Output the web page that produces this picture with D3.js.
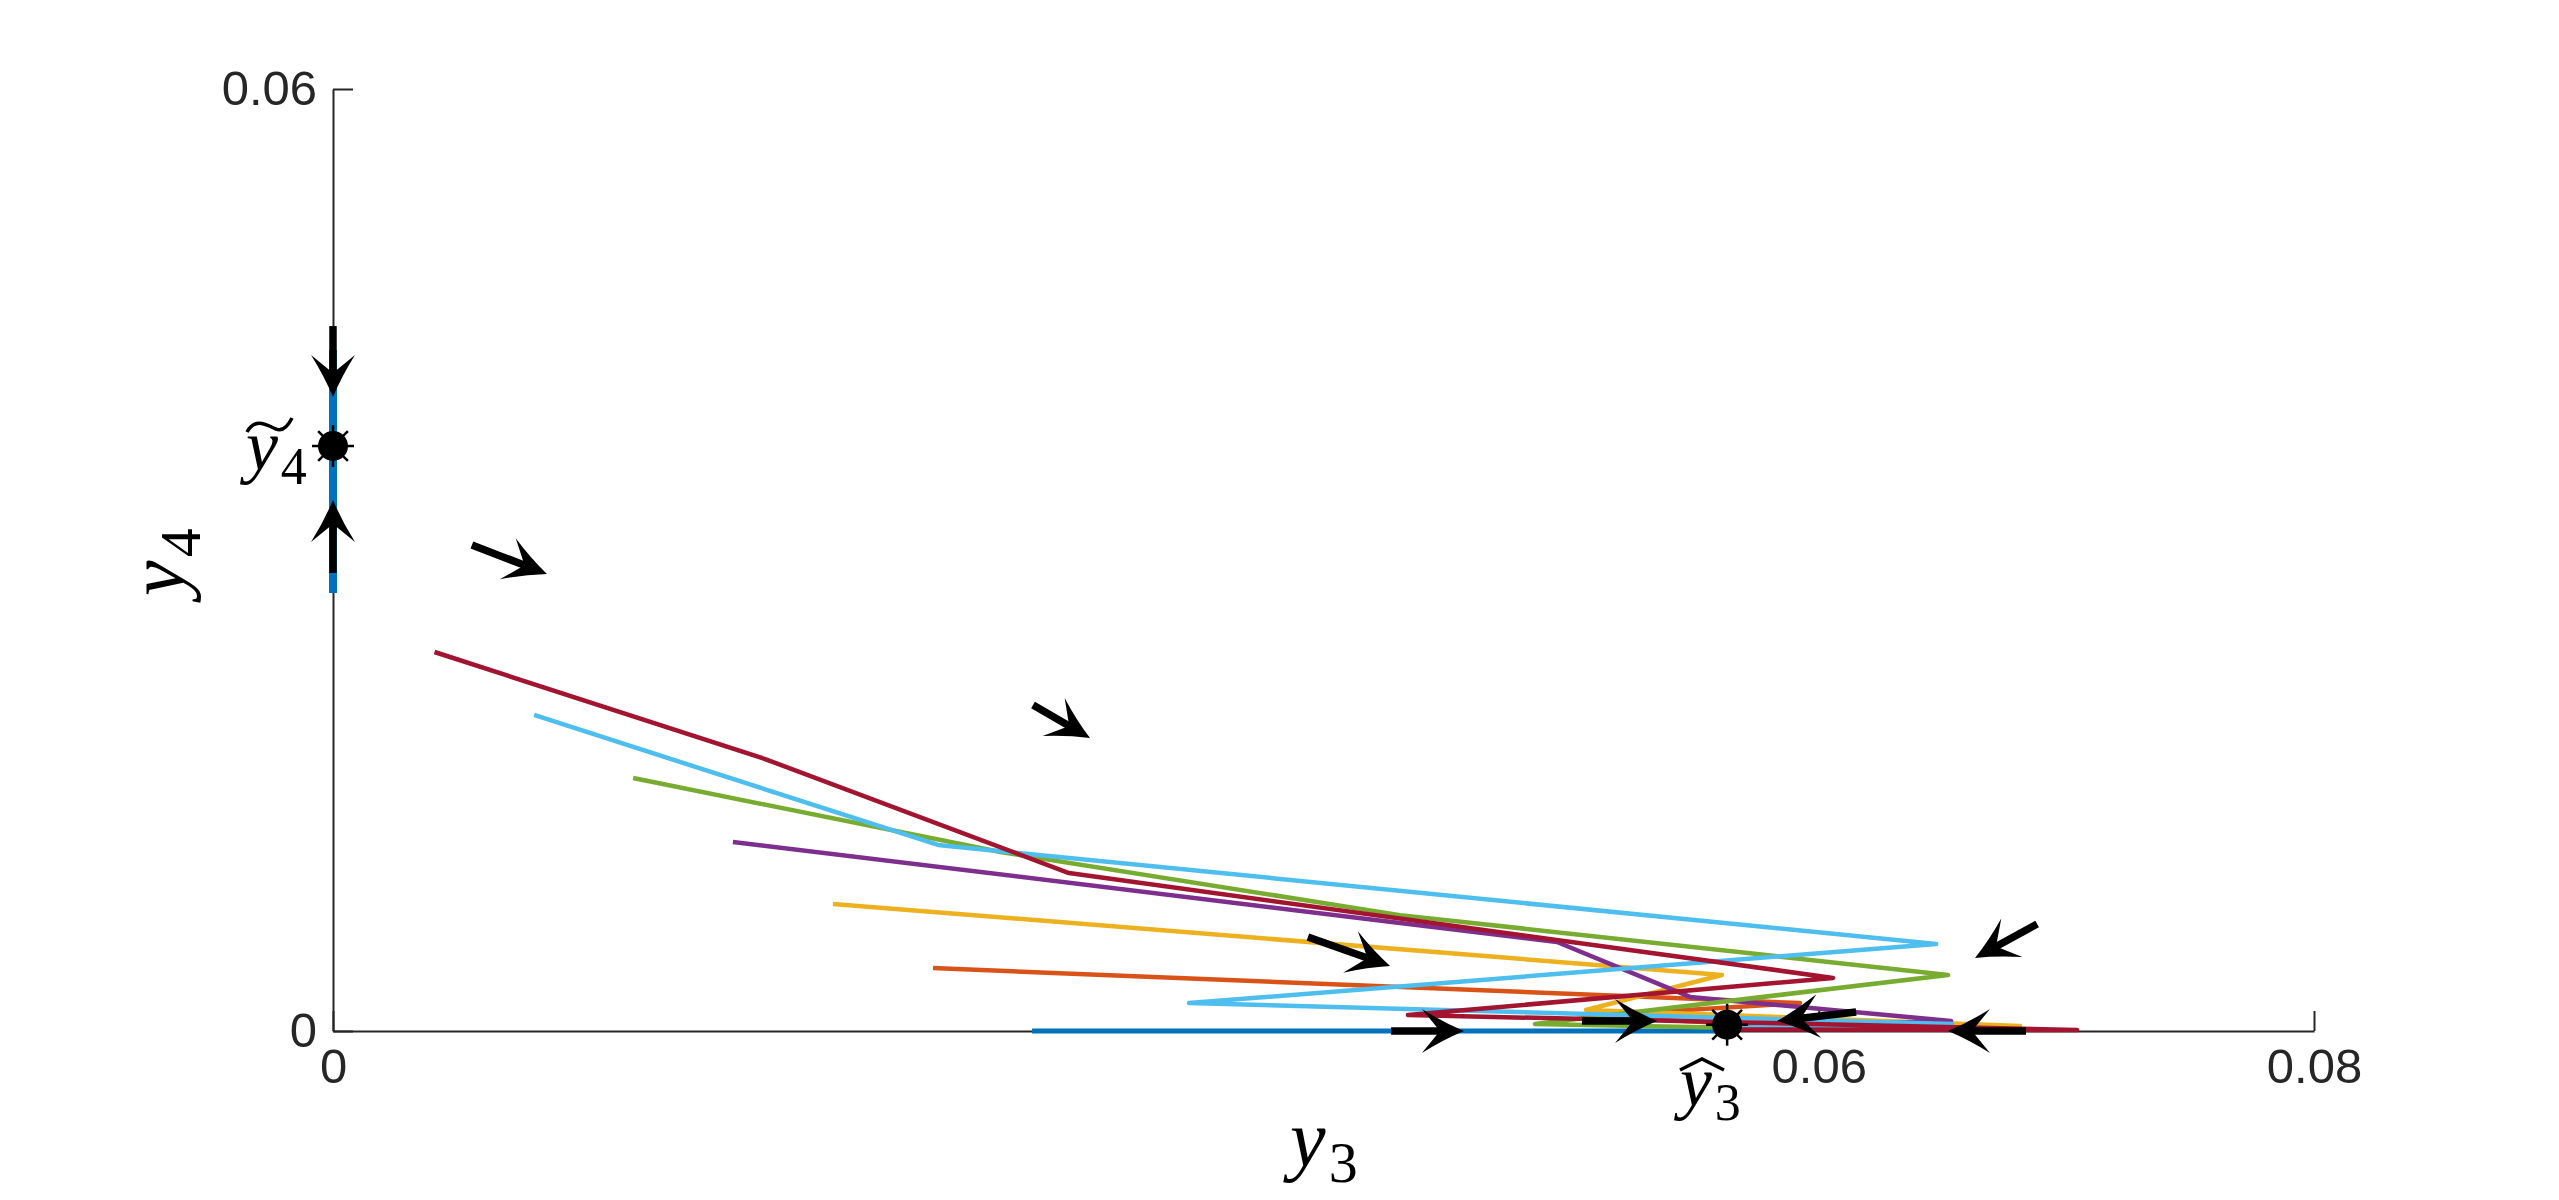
<!DOCTYPE html>
<html>
<head>
<meta charset="utf-8">
<script src="https://cdn.jsdelivr.net/npm/d3@7"></script>
<style>
  html, body { margin: 0; padding: 0; background: #ffffff; }
  svg { display: block; }
</style>
</head>
<body>
<svg id="chart" width="2559" height="1200"></svg>
<script>
// ---------------- data ----------------
const xTicks = [0, 0.06, 0.08];
const xTickLabels = ["0", "0.06", "0.08"];
const yTicks = [0, 0.06];
const yTickLabels = ["0", "0.06"];
const xDomain = [0, 0.08];
const yDomain = [0, 0.06];

// trajectories in (y3, y4), plotted in MATLAB default colour order
const trajOrange = [[0.02423,0.00401],[0.05924,0.00178],[0.05076,0.00096],[0.05763,0.00038],[0.0563,0.0002]];
const trajYellow = [[0.02019,0.00809],[0.05609,0.00357],[0.0506,0.00134],[0.06813,0.00032],[0.0563,0.0002]];
const trajPurple = [[0.01615,0.01204],[0.04309,0.00688],[0.04943,0.00567],[0.0548,0.00217],[0.06534,0.00064],[0.0563,0.0002]];
const trajGreen  = [[0.01212,0.01611],[0.02695,0.01140],[0.04309,0.00738],[0.06522,0.00357],[0.04854,0.00045],[0.0563,0.0002]];
const trajLightBlue = [[0.00812,0.02013],[0.02443,0.01185],[0.06474,0.00554],[0.03457,0.00178],[0.06538,0.00045],[0.0563,0.0002]];
const trajRed    = [[0.0041,0.02414],[0.01745,0.01732],[0.02972,0.01006],[0.06058,0.00338],[0.04341,0.00102],[0.07043,0.00006],[0.0563,0.0001]];

// invariant sets on the axes
const blueVertical = [[0, 0.04338],[0, 0.0279]];
const blueHorizontal = [[0.02823, 0],[0.0563, 0]];

// equilibria
const equilibria = [[0, 0.03726],[0.0563, 0.0004]];

// direction arrows: [tailX, tailY, headX, headY]
const arrows = [
  [0, 0.04490, 0, 0.04038],
  [0, 0.02917, 0, 0.03382],
  [0.00561, 0.03096, 0.00864, 0.02911],
  [0.02827, 0.02076, 0.03057, 0.01866],
  [0.03937, 0.00599, 0.04269, 0.00414],
  [0.06882, 0.00682, 0.06631, 0.00465],
  [0.04273, 0, 0.04567, 0],
  [0.05044, 0.00064, 0.05347, 0.00064],
  [0.06151, 0.00121, 0.05832, 0.00064],
  [0.06837, 0, 0.06522, 0]
];

const colors = {
  blue: "#0072BD", orange: "#D95319", yellow: "#EDB120", purple: "#7E2F8E",
  green: "#77AC30", lightblue: "#4DBEEE", red: "#A2142F"
};

// ---------------- drawing ----------------
const svg = d3.select("#chart");
const x = d3.scaleLinear().domain(xDomain).range([333, 2314]);
const y = d3.scaleLinear().domain(yDomain).range([1031, 89]);
const axisColor = "#262626";

// axes
const xAxis = d3.axisBottom(x).tickValues(xTicks)
  .tickFormat((d, i) => xTickLabels[i]).tickSizeInner(-20).tickSizeOuter(0).tickPadding(17);
const yAxis = d3.axisLeft(y).tickValues(yTicks)
  .tickFormat((d, i) => yTickLabels[i]).tickSizeInner(-20).tickSizeOuter(0).tickPadding(16);

const gx = svg.append("g").attr("transform", `translate(0,${y(0)})`).call(xAxis);
const gy = svg.append("g").attr("transform", `translate(${x(0)},0)`).call(yAxis);
[gx, gy].forEach(g => {
  g.select(".domain").attr("stroke", axisColor).attr("stroke-width", 2);
  g.selectAll(".tick line").attr("stroke", axisColor).attr("stroke-width", 2);
  g.selectAll(".tick text").attr("fill", axisColor)
    .style("font-family", "'Liberation Sans', Arial, sans-serif").style("font-size", "49px");
});

const line = d3.line().x(d => x(d[0])).y(d => y(d[1]));

// invariant lines on the axes
svg.append("path").datum(blueVertical).attr("d", line)
  .attr("fill", "none").attr("stroke", colors.blue).attr("stroke-width", 8);
svg.append("path").datum(blueHorizontal).attr("d", line)
  .attr("fill", "none").attr("stroke", colors.blue).attr("stroke-width", 5);

// trajectories
const trajs = [
  [trajOrange, colors.orange], [trajYellow, colors.yellow], [trajPurple, colors.purple],
  [trajGreen, colors.green], [trajLightBlue, colors.lightblue], [trajRed, colors.red]
];
trajs.forEach(([data, c]) => {
  svg.append("path").datum(data).attr("d", line)
    .attr("fill", "none").attr("stroke", c).attr("stroke-width", 4.5)
    .attr("stroke-linejoin", "round");
});

// arrows
const gA = svg.append("g");
arrows.forEach(a => {
  const tx = x(a[0]), ty = y(a[1]), hx = x(a[2]), hy = y(a[3]);
  const ang = Math.atan2(hy - ty, hx - tx);
  const L = 42, W = 22, N = 24;
  const ux = Math.cos(ang), uy = Math.sin(ang);
  const px = -uy, py = ux;
  gA.append("line").attr("x1", tx).attr("y1", ty)
    .attr("x2", hx - ux * N).attr("y2", hy - uy * N)
    .attr("stroke", "#000").attr("stroke-width", 7.5);
  const b1 = [hx - ux * L + px * W, hy - uy * L + py * W];
  const b2 = [hx - ux * L - px * W, hy - uy * L - py * W];
  const n  = [hx - ux * N, hy - uy * N];
  const c1 = [hx - ux * L * 0.5 + px * W * 0.4, hy - uy * L * 0.5 + py * W * 0.4];
  const c2 = [hx - ux * L * 0.5 - px * W * 0.4, hy - uy * L * 0.5 - py * W * 0.4];
  gA.append("path")
    .attr("d", `M${hx},${hy} Q${c1[0]},${c1[1]} ${b1[0]},${b1[1]} L${n[0]},${n[1]} L${b2[0]},${b2[1]} Q${c2[0]},${c2[1]} ${hx},${hy} Z`)
    .attr("fill", "#000");
});

// equilibria: filled circle with asterisk spokes
equilibria.forEach(e => {
  const cx = x(e[0]), cy = y(e[1]);
  const g = svg.append("g").attr("transform", `translate(${cx},${cy})`);
  for (let k = 0; k < 8; k++) {
    const t = k * Math.PI / 4;
    g.append("line").attr("x1", 0).attr("y1", 0)
      .attr("x2", 21 * Math.cos(t)).attr("y2", 21 * Math.sin(t))
      .attr("stroke", "#000").attr("stroke-width", 2.5);
  }
  g.append("circle").attr("r", 15).attr("fill", "#000");
});

// ---------------- text labels (LaTeX-like) ----------------
const mathFont = "'Liberation Serif', 'DejaVu Serif', serif";
function mathLabel(parent, base, sub, size) {
  const t = parent.append("text").style("font-family", mathFont).attr("fill", "#000");
  t.append("tspan").text(base).style("font-style", "italic").style("font-size", size + "px");
  t.append("tspan").text(sub).style("font-size", Math.round(size * 0.72) + "px")
    .attr("dx", size * 0.04).attr("dy", size * 0.2);
  return t;
}

// x axis label y3
mathLabel(svg.append("g").attr("transform", "translate(1290,1166)"), "y", "3", 80);
// y axis label y4 (rotated)
mathLabel(svg.append("g").attr("transform", "translate(184,596) rotate(-90)"), "y", "4", 80);

// tilde y4 near upper equilibrium
const gT = svg.append("g").attr("transform", "translate(246,470)");
mathLabel(gT, "y", "4", 72);
gT.append("path").attr("d", "M1,-38 C10,-54 22,-44 30,-41 C37,-38 42,-44 46,-52")
  .attr("fill", "none").attr("stroke", "#000").attr("stroke-width", 3.5);

// hat y3 near lower equilibrium
const gH = svg.append("g").attr("transform", "translate(1680,1106)");
mathLabel(gH, "y", "3", 72);
gH.append("path").attr("d", "M0,-36 L22,-47 L44,-36")
  .attr("fill", "none").attr("stroke", "#000").attr("stroke-width", 3.5);
</script>
</body>
</html>
